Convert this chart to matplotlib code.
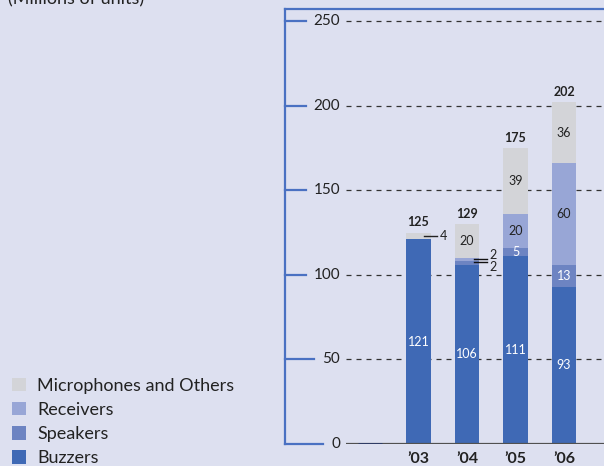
import numpy as np
import matplotlib
matplotlib.use('Agg')
import matplotlib.pyplot as plt

plt.rcParams['font.family'] = ['Lato', 'DejaVu Sans']

# data (millions of units)
years = ['', '\u201903', '\u201904', '\u201905', '\u201906']
buzzers = [0, 121, 106, 111, 93]
speakers = [0, 0, 2, 5, 13]
receivers = [0, 0, 2, 20, 60]
microphones = [0, 4, 20, 39, 36]
totals = [None, 125, 129, 175, 202]
yticks = [0, 50, 100, 150, 200, 250]

bg = '#dde0f0'
frame_blue = '#4a71c2'
colors = {'Buzzers': '#3f69b5', 'Speakers': '#6d84c2',
          'Receivers': '#98a6d6', 'Microphones and Others': '#d3d4d8'}

W, H = 604, 466
fig = plt.figure(figsize=(W / 100, H / 100), dpi=100, facecolor=bg)

# axes: left edge = frame line, slot spacing 48.5 px
px_unit = 48.5
x0_px = 370
left_px, top_px, bottom_px = 285, 9, 444
ax = fig.add_axes([left_px / W, 1 - bottom_px / H, 1 - left_px / W, (bottom_px - top_px) / H])
ax.set_facecolor(bg)
xmin = (left_px - x0_px) / px_unit
xmax = (W - x0_px) / px_unit
ax.set_xlim(xmin, xmax)
y_per_px = 250 / (444 - 21)
ax.set_ylim(0, (bottom_px - top_px) * y_per_px)

for s in ['right', 'bottom']:
    ax.spines[s].set_visible(False)
for s in ['left', 'top']:
    ax.spines[s].set_color(frame_blue)
    ax.spines[s].set_linewidth(1.6)
ax.set_xticks([])
ax.set_yticks([])

x = np.arange(len(years))
grid_start = -0.5

# grid lines
for t in yticks[1:]:
    ax.hlines(t, grid_start, xmax, colors='#333333', linestyles=(0, (4, 4)), lw=0.9, zorder=1)
ax.hlines(0, grid_start, xmax, colors='#505050', lw=1.6, zorder=3)
ax.hlines(0, -0.25, 0.25, colors='#2c3a68', lw=2, zorder=4)

# y tick labels with tick lines from the frame
label_right = (340 - x0_px) / px_unit
for t in yticks:
    ax.text(label_right, t, str(t), ha='right', va='center', fontsize=11, color='#222222')
    n = len(str(t))
    tick_end = (340 - 9 - 8.3 * n - x0_px) / px_unit
    ax.plot([xmin, tick_end], [t, t], color=frame_blue, lw=1.6, clip_on=False, zorder=2)

# stacked bars
width = 0.515
series = [('Buzzers', buzzers), ('Speakers', speakers),
          ('Receivers', receivers), ('Microphones and Others', microphones)]
bottom = np.zeros(len(years))
handles = {}
for name, vals in series:
    vals = np.array(vals, dtype=float)
    bars = ax.bar(x, vals, width, bottom=bottom, color=colors[name], zorder=2, label=name)
    handles[name] = bars
    bottom = bottom + vals

# segment labels
bottom = np.zeros(len(years))
inside_min = {'Buzzers': 10, 'Speakers': 4, 'Receivers': 10, 'Microphones and Others': 10}
for name, vals in series:
    txt_color = 'white' if name in ('Buzzers', 'Speakers') else '#222222'
    for i, v in enumerate(vals):
        if v >= inside_min[name]:
            ax.text(x[i], bottom[i] + v / 2, str(v), ha='center', va='center',
                    fontsize=9, color=txt_color, zorder=5)
    bottom = bottom + np.array(vals)

# small segments labelled outside with leader lines
b = np.array(buzzers)
s = np.array(speakers)
r = np.array(receivers)
m = np.array(microphones)
edge = width / 2
# '03 microphones
yc = b[1] + m[1] / 2
ax.plot([x[1] + edge - 0.15, x[1] + edge + 0.12], [yc, yc], color='#222222', lw=1, zorder=5)
ax.text(x[1] + edge + 0.18, yc, str(m[1]), ha='left', va='center', fontsize=9, color='#222222')
# '04 speakers / receivers
ys = b[2] + s[2] / 2
yr = b[2] + s[2] + r[2] / 2
ax.plot([x[2] + edge - 0.12, x[2] + edge + 0.15], [yr + 0.3, yr + 0.3], color='#111111', lw=1, zorder=5)
ax.plot([x[2] + edge - 0.12, x[2] + edge + 0.15], [ys + 0.3, ys + 0.3], color='#111111', lw=1, zorder=5)
ax.text(x[2] + edge + 0.2, yr + 2.8, str(r[2]), ha='left', va='center', fontsize=9, color='#222222')
ax.text(x[2] + edge + 0.2, ys - 2.6, str(s[2]), ha='left', va='center', fontsize=9, color='#222222')

# totals
stack = b + s + r + m
for i, t in enumerate(totals):
    if t is None:
        continue
    ax.text(x[i], stack[i] + 2.5, str(t), ha='center', va='bottom', fontsize=9,
            fontweight='bold', color='#222222')

# year labels
for i, yl in enumerate(years):
    ax.text(x[i], -9, yl, ha='center', va='center', fontsize=11.5, fontweight='bold',
            color='#222222', clip_on=False)

# unit note (cut off at the top)
fig.text(8 / W, 1 - 4 / H, '(Millions of units)', ha='left', va='baseline',
         fontsize=13, color='#222222')

# legend
order = ['Microphones and Others', 'Receivers', 'Speakers', 'Buzzers']
leg = fig.legend([handles[k] for k in order], order, loc='upper left',
                 bbox_to_anchor=(12 / W, 1 - 377.5 / H), frameon=False,
                 fontsize=13, borderpad=0, borderaxespad=0, labelspacing=0.44,
                 handlelength=0.8, handleheight=0.8, handletextpad=0.6)
for txt in leg.get_texts():
    txt.set_color('#222222')

fig.savefig('out.png', dpi=100, facecolor=bg)
